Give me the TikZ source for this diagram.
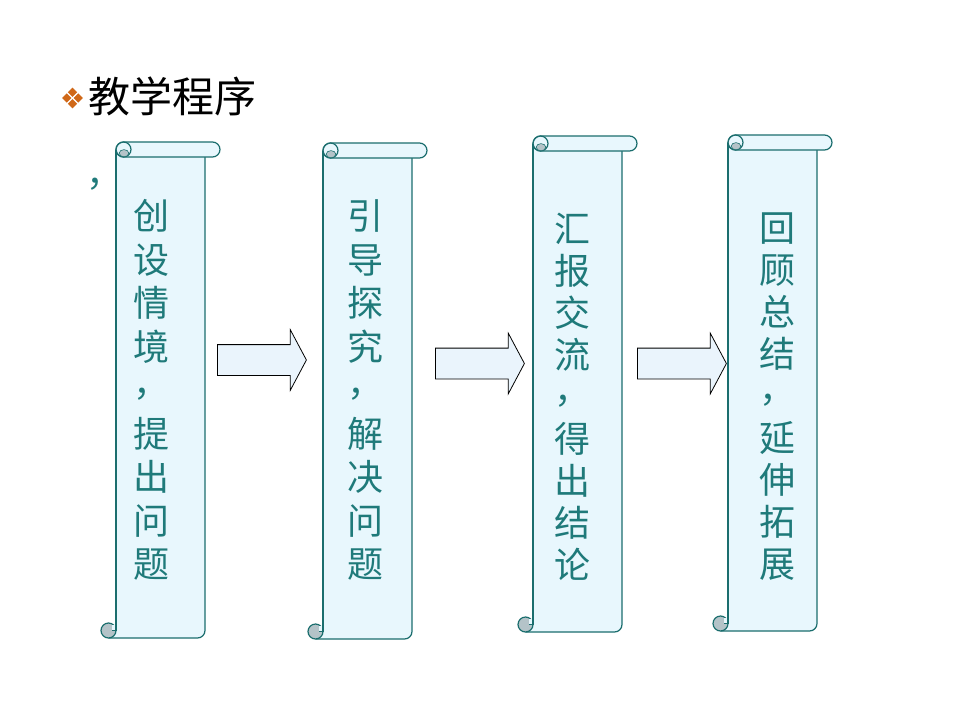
\documentclass[tikz,border=0pt]{standalone}
\usepackage{fontspec}
\newfontfamily\cjk{Noto Sans CJK SC}
\usetikzlibrary{shapes.arrows}
\definecolor{scrollfillc}{HTML}{E8F7FD}
\definecolor{scrolllinec}{HTML}{1B6E6E}
\definecolor{curlc}{HTML}{B4C3C8}
\definecolor{textc}{HTML}{1F7A7A}
\definecolor{arrowfillc}{HTML}{EAF4FC}
\definecolor{bulletc}{HTML}{D06818}
\tikzset{
  scrollline/.style={draw=scrolllinec, line width=1.2pt, line join=round},
  scrollbody/.style={fill=scrollfillc},
  curlfill/.style={fill=curlc},
  coltext/.style={text=textc, align=center, inner sep=0pt},
  blockarrow/.style={single arrow, draw=black, fill=arrowfillc, line width=0.8pt,
    minimum height=89, inner xsep=0pt, inner ysep=15pt, single arrow head extend=15,
    single arrow tip angle=124, anchor=tail},
  bulletdia/.style={fill=bulletc},
}
\newcommand\drawscroll[4]{%
  \begin{scope}[shift={(#1,#2)}]
    \pgfmathsetmacro\W{#3-#1}\pgfmathsetmacro\H{#4-#2}
    \fill[scrollbody] (15,7.5) -- (\W-15,7.5) -- (\W-15,\H-7.5)
       arc[start angle=0,end angle=90,radius=7.5] -- (7.5,\H) -- (7.5,\H-7.5) -- (15,\H-7.5) -- cycle;
    \draw[scrollline] (\W-15,15) -- (\W-15,\H-7.5)
       arc[start angle=0,end angle=90,radius=7.5] -- (7.5,\H);
    \draw[scrollline] (15,7.5) -- (15,\H-7.5);
    \filldraw[scrollline, curlfill] (7.5,\H-7.5) circle[radius=7.5];
    \fill[scrollbody] (10.5,\H-13.5) rectangle (15,\H-8);
    \draw[scrollline] (15,\H-14.5) -- (15,\H-7.5) -- (10.5,\H-7.5);
    \filldraw[scrollline, scrollbody] (22.5,0) -- (\W-7.5,0)
       arc[start angle=-90,end angle=90,radius=7.5] -- (22.5,15)
       arc[start angle=90,end angle=270,radius=7.5] -- cycle;
    \draw[scrollline] (22.5,7.5) circle[radius=7.5];
    \filldraw[curlfill, draw=scrolllinec, line width=0.6pt] (23,11.2) ellipse[x radius=4.8, y radius=3.6];
  \end{scope}}
\newcommand\vcomma{\smash{\raisebox{0.2em}{，}}}
\begin{document}
\begin{tikzpicture}[x=1pt,y=-1pt]
\useasboundingbox[fill=white] (0,0) rectangle (960,720);
% bullet
\foreach \dx/\dy in {-5.8/0,5.8/0,0/-5.8,0/5.8}{
  \fill[bulletdia] (72.5+\dx,98+\dy) +(-4.6,0) -- +(0,-4.6) -- +(4.6,0) -- +(0,4.6) -- cycle;}
\node[anchor=west, inner sep=0pt, font=\cjk\fontsize{42}{42}\selectfont] (title) at (88,96) {教学程序};
\node[anchor=base west, inner sep=0pt, text=textc, font=\cjk\fontsize{36}{36}\selectfont] (stray) at (86,186) {，};
% scrolls
\drawscroll{101}{142}{220}{638}
\drawscroll{308}{143}{427}{639}
\drawscroll{518}{136}{637}{632}
\drawscroll{713}{135}{832}{631}
% texts
\node[coltext, font=\cjk\fontsize{36}{43.5}\selectfont] (t1) at (151,390)
  {创\\设\\情\\境\\\vcomma\\提\\出\\问\\题};
\node[coltext, font=\cjk\fontsize{36}{43.5}\selectfont] (t2) at (365,390)
  {引\\导\\探\\究\\\vcomma\\解\\决\\问\\题};
\node[coltext, font=\cjk\fontsize{36}{42}\selectfont] (t3) at (572,397)
  {汇\\报\\交\\流\\\vcomma\\得\\出\\结\\论};
\node[coltext, font=\cjk\fontsize{36}{42}\selectfont] (t4) at (777,397)
  {回\\顾\\总\\结\\\vcomma\\延\\伸\\拓\\展};
% arrows
\node[blockarrow] (a1) at (217,360) {};
\node[blockarrow] (a2) at (435,363.5) {};
\node[blockarrow] (a3) at (637,363.5) {};
\end{tikzpicture}
\end{document}
